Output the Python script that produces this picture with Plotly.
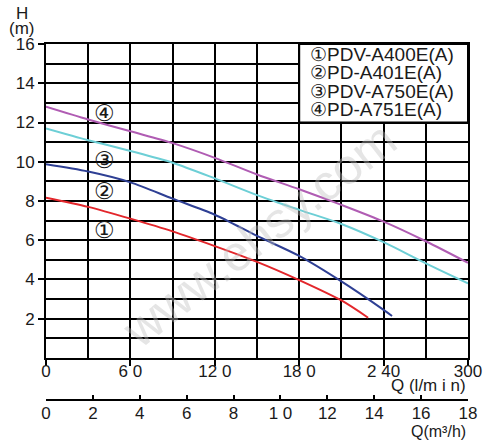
import plotly.graph_objects as go

# ---- data ----
model_names = ["①PDV-A400E(A)", "②PD-A401E(A)", "③PDV-A750E(A)", "④PD-A751E(A)"]
curve_marks = ["①", "②", "③", "④"]

q1 = [0, 30, 60, 90, 120, 150, 180, 210, 229]
h1 = [8.17, 7.7, 7.1, 6.45, 5.7, 4.9, 3.97, 2.93, 2.05]

q2 = [0, 30, 60, 90, 120, 150, 180, 210, 240, 246]
h2 = [9.87, 9.5, 8.95, 8.12, 7.3, 6.22, 5.2, 3.9, 2.45, 2.14]

q3 = [0, 30, 60, 90, 120, 150, 180, 210, 240, 270, 300]
h3 = [11.7, 11.1, 10.55, 9.95, 9.15, 8.3, 7.55, 6.83, 5.9, 4.82, 3.8]

q4 = [0, 30, 60, 90, 120, 150, 180, 210, 240, 270, 300]
h4 = [12.8, 12.15, 11.55, 10.95, 10.2, 9.35, 8.6, 7.8, 6.95, 5.95, 4.85]

q_lmin_ticks = [0, 60, 120, 180, 240, 300]
q_lmin_text = ["0", "6 0", "12 0", "18 0", "2 40", "300"]
q_m3h_ticks = [0, 2, 4, 6, 8, 10, 12, 14, 16, 18]
q_m3h_text = ["0", "2", "4", "6", "8", "1 0", "12", "14", "16", "18"]
h_ticks = [2, 4, 6, 8, 10, 12, 14, 16]

colors = ["#e3262b", "#2e3f94", "#6dcfd6", "#b05cb3"]

FONT = "Liberation Sans, Arial, sans-serif"
INK = "#1a1a1a"

fig = go.Figure()
for qs, hs, c, name in zip([q1, q2, q3, q4], [h1, h2, h3, h4], colors, model_names):
    fig.add_trace(go.Scatter(x=qs, y=hs, mode="lines", name=name,
                             line=dict(color=c, width=2, shape="spline", smoothing=0.8),
                             showlegend=False, hoverinfo="skip"))

# carrier trace for the secondary (m3/h) axis
fig.add_trace(go.Scatter(x=q_m3h_ticks, y=[None] * len(q_m3h_ticks), xaxis="x2",
                         mode="lines", showlegend=False, hoverinfo="skip"))

grid = dict(showgrid=True, gridcolor="black", gridwidth=2)

fig.update_layout(
    width=499, height=442,
    margin=dict(l=46, r=31, t=44, b=42),
    paper_bgcolor="white", plot_bgcolor="white",
    font=dict(family=FONT, color=INK, size=17),
    xaxis=dict(range=[0, 300], tickvals=q_lmin_ticks, ticktext=q_lmin_text,
               ticks="outside", ticklen=6, tickwidth=2, tickcolor="black",
               ticklabelstandoff=-9,
               showline=True, linecolor="black", linewidth=2, mirror=True,
               zeroline=False, anchor="y",
               tickfont=dict(size=17, family=FONT, color=INK),
               minor=dict(dtick=30, tick0=0, showgrid=True, gridcolor="black", gridwidth=2, ticks=""),
               **grid),
    xaxis2=dict(range=[0, 18], tickvals=q_m3h_ticks, ticktext=q_m3h_text,
                overlaying="x", anchor="free", position=0, side="bottom",
                ticks="inside", ticklen=4, tickwidth=2, tickcolor="black",
                ticklabelstandoff=-2,
                showline=True, linecolor="black", linewidth=2, showgrid=False,
                zeroline=False, tickfont=dict(size=17, family=FONT, color=INK)),
    yaxis=dict(range=[0, 16], domain=[0.118, 1], tickvals=h_ticks,
               ticks="outside", ticklen=6, tickwidth=2, tickcolor="black",
               showline=True, linecolor="black", linewidth=2, mirror=True,
               zeroline=False,
               tickfont=dict(size=17, family=FONT, color=INK),
               minor=dict(dtick=1, tick0=0, showgrid=True, gridcolor="black", gridwidth=2, ticks=""),
               **grid),
)

# legend box with model names
fig.add_shape(type="rect", xref="x", yref="y", x0=180, x1=300, y0=12, y1=16,
              fillcolor="white", line=dict(color="black", width=2), layer="above")
legend_y = [15.45, 14.53, 13.56, 12.64]
for name, yy in zip(model_names, legend_y):
    fig.add_annotation(x=186, y=yy, xref="x", yref="y", text=name, showarrow=False,
                       xanchor="left", yanchor="middle",
                       font=dict(size=19, family=FONT, color=INK))

# circled curve labels
mark_y = [6.52, 8.51, 10.1, 12.49]
for m, yy in zip(curve_marks, mark_y):
    fig.add_annotation(x=41.5, y=yy, xref="x", yref="y", text=m, showarrow=False,
                       xanchor="center", yanchor="middle",
                       font=dict(size=23, family="DejaVu Serif, serif", color=INK))

# axis titles
fig.add_annotation(x=-0.057, y=1.087, xref="paper", yref="paper", text="H",
                   showarrow=False, xanchor="center", yanchor="middle",
                   font=dict(size=17, family=FONT, color=INK))
fig.add_annotation(x=-0.057, y=1.044, xref="paper", yref="paper", text="(m)",
                   showarrow=False, xanchor="center", yanchor="middle",
                   font=dict(size=17, family=FONT, color=INK))
fig.add_annotation(x=1.0, y=0.042, xref="paper", yref="paper", text="Q (l/m i n)",
                   showarrow=False, xanchor="right", yanchor="middle",
                   font=dict(size=17, family=FONT, color=INK))
fig.add_annotation(x=1.0, y=-0.088, xref="paper", yref="paper", text="Q(m³/h)",
                   showarrow=False, xanchor="right", yanchor="middle",
                   font=dict(size=16, family=FONT, color=INK))

# faint watermark
fig.add_annotation(x=0.505, y=0.463, xref="paper", yref="paper", text="www.ehsy.com",
                   showarrow=False, textangle=-38,
                   font=dict(size=50, family=FONT, color="rgba(190,190,190,0.4)"))

fig.write_html("out.html", config={"displayModeBar": False},
               post_script="document.body.style.margin='0px';document.body.style.padding='0px';")
